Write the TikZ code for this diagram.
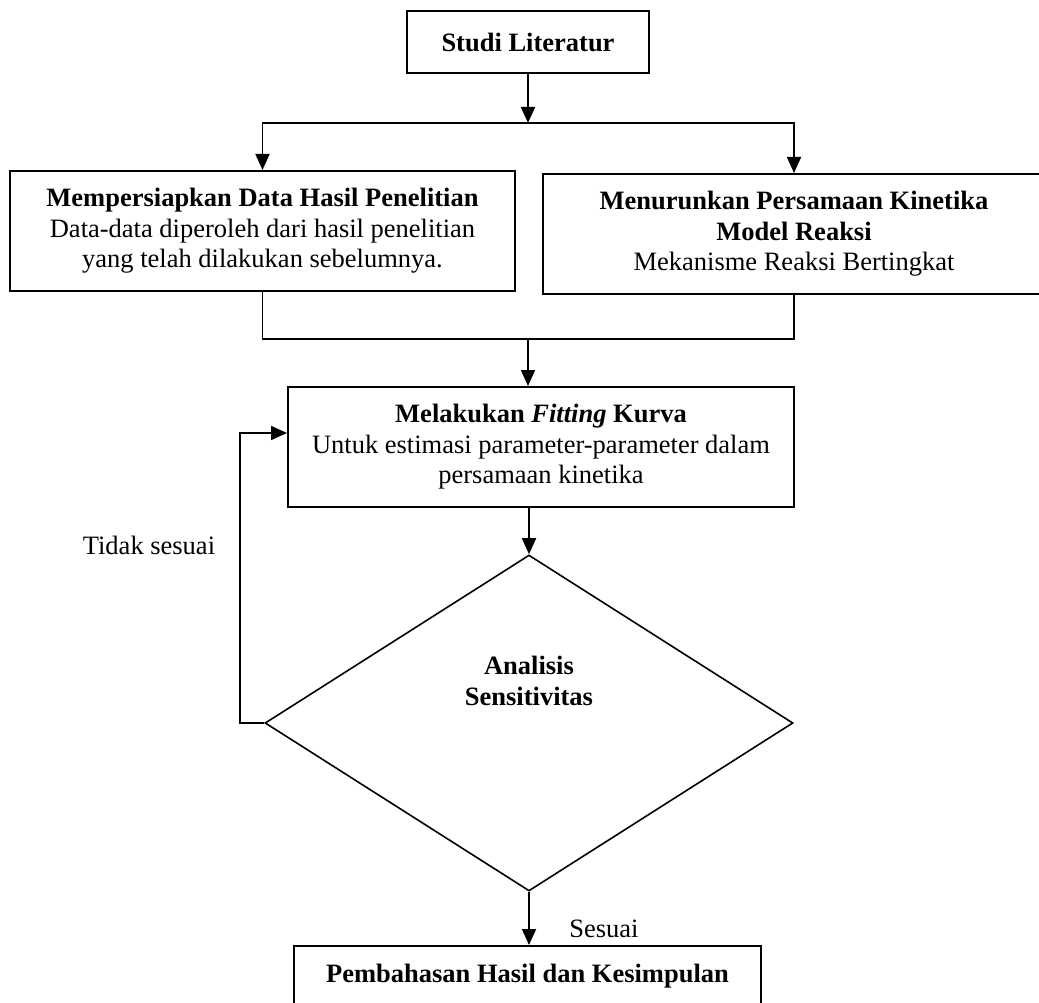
\documentclass[tikz,border=0pt]{standalone}
\usepackage{fontspec}
\setmainfont{Liberation Serif}
\usetikzlibrary{arrows.meta,shapes.geometric}

\begin{document}
\begin{tikzpicture}[
        x=1pt, y=-1pt,
        font=\fontsize{26.5}{30.5}\selectfont,
        proc-box/.style = {draw, line width=2pt, rectangle, align=center, inner sep=0pt},
        dec-elm/.style = {draw, line width=1.6pt, diamond, inner sep=0pt, minimum width=528pt, minimum height=336pt},
        conn/.style = {line width=1.8pt},
        >={Triangle[length=16pt,width=14pt]}
      ]
        \useasboundingbox (0,0) rectangle (1039,1003);

        \node[proc-box, minimum width=242pt, minimum height=62pt] (studi) at (528,42) {\textbf{Studi Literatur}};
        \node[proc-box, minimum width=505pt, minimum height=120pt, below of=studi, node distance=189pt, xshift=-265.5pt] (data)
          {\textbf{Mempersiapkan Data Hasil Penelitian}\\Data-data diperoleh dari hasil penelitian\\yang telah dilakukan sebelumnya.};
        \node[proc-box, minimum width=502pt, minimum height=120pt, below of=studi, node distance=192pt, xshift=266pt] (model)
          {\textbf{Menurunkan Persamaan Kinetika}\\\textbf{Model Reaksi}\\Mekanisme Reaksi Bertingkat};
        \node[proc-box, minimum width=506pt, minimum height=120pt, below of=studi, node distance=405pt, xshift=13pt] (fit)
          {\textbf{Melakukan \textit{Fitting} Kurva}\\Untuk estimasi parameter-parameter dalam\\persamaan kinetika};
        \node[dec-elm, below of=fit, node distance=276pt, xshift=-12pt] (analisis) {};
        \node[align=center, font=\fontsize{26.5}{30.5}\selectfont\bfseries, above of=analisis, node distance=42pt] (analisis-txt) {Analisis\\Sensitivitas};
        \node[proc-box, minimum width=467pt, minimum height=60pt, below of=analisis, node distance=253pt, xshift=-1.5pt] (hasil)
          {\textbf{Pembahasan Hasil dan Kesimpulan}};

        \coordinate (split) at (528,123);
        \coordinate (join) at (528,339);

        \draw[conn,->] (studi) -- (split);
        \draw[conn,->] (split) -| (data.north);
        \draw[conn,->] (split) -| (model.north);

        \draw[conn] (data.south) |- (join) -| (model.south);
        \draw[conn,->] (join) -- (join |- fit.north);

        \draw[conn,->] (analisis.north |- fit.south) -- (analisis.north);
        \draw[conn,->] (analisis.west) -- ++(-24,0) |- ([yshift=14pt]fit.west);
        \node (tidak) at (149,545) {Tidak sesuai};

        \draw[conn,->] (analisis.south) -- (analisis.south |- hasil.north);
        \node (sesuai) at (604,929) {Sesuai};
      \end{tikzpicture}
\end{document}
